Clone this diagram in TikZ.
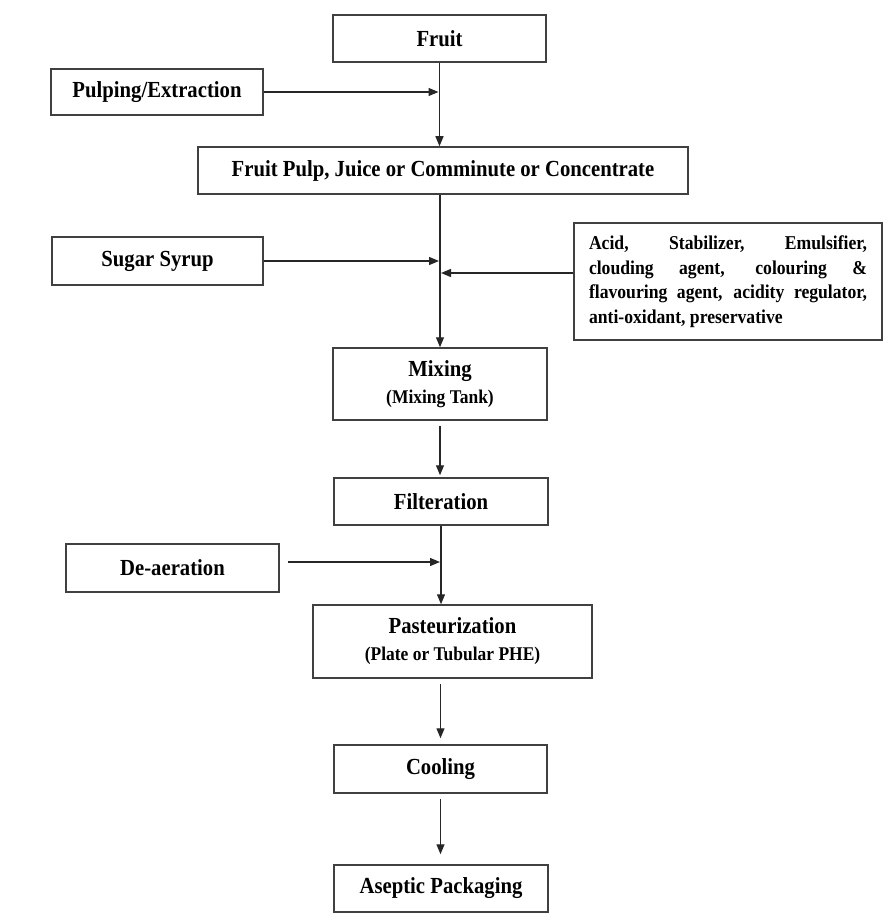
\documentclass[tikz,border=0pt]{standalone}
\usepackage{fontspec}
\setmainfont{Liberation Serif}[FakeStretch=0.9]
\usepackage{tikz}
\usetikzlibrary{arrows.meta,positioning}

\begin{document}
\begin{tikzpicture}[x=1pt,y=-1pt,
  font=\fontsize{23}{27}\selectfont\bfseries,
  box/.style={draw=black!75,line width=1.5pt,fill=white,align=center,inner sep=0pt},
  arr/.style={-{Triangle[length=10pt,width=8pt]},line width=1.3pt,draw=black!85}]
\useasboundingbox (0,0) rectangle (895,920);
% main column
\node[box,minimum width=213pt,minimum height=47pt] (fruit) at (439.5,38.5) {Fruit};
\node[box,minimum width=490pt,minimum height=47pt] (pulp) at (443,170.5) {Fruit Pulp, Juice or Comminute or Concentrate};
\node[box,minimum width=214pt,minimum height=72pt] (mixing) at (440,384) {Mixing\\{\fontsize{19.4}{27}\selectfont (Mixing Tank)}};
\node[box,minimum width=214pt,minimum height=47pt] (filter) at (441,501.5) {Filteration};
\node[box,minimum width=279pt,minimum height=73pt] (pasteur) at (452.5,641.5) {Pasteurization\\{\fontsize{19.4}{27}\selectfont (Plate or Tubular PHE)}};
\node[box,minimum width=213pt,minimum height=48pt] (cooling) at (440.5,769) {Cooling};
\node[box,minimum width=214pt,minimum height=47pt] (aseptic) at (441,888.5) {Aseptic Packaging};
% side inputs
\node[box,minimum width=212pt,minimum height=46pt] (pulping) at (157,92) {Pulping/Extraction};
\node[box,minimum width=211pt,minimum height=48pt] (sugar) at (157.5,261) {Sugar Syrup};
\node[box,minimum width=308pt,minimum height=117pt,text width=278pt,align=justify,
  font=\fontsize{19.6}{24.5}\selectfont\bfseries] (additives) at (728,281.5)
  {Acid, Stabilizer, Emulsifier,\linebreak clouding agent, colouring \&\linebreak flavouring agent, acidity regulator,\linebreak anti-oxidant, preservative};
\node[box,minimum width=213pt,minimum height=48pt] (deaer) at (172.5,568) {De-aeration};
% connectors
\draw[arr] (fruit.south) -- (fruit |- pulp.north);
\draw[arr,shorten >=1pt] (pulping.east) -- (pulping -| fruit);
\draw[arr] (pulp.south -| mixing) -- (mixing.north);
\draw[arr,shorten >=1pt] (sugar.east) -- (sugar -| mixing);
\draw[arr,shorten >=1pt] ([yshift=8.5pt]additives.west) -- ([yshift=8.5pt]additives.west -| mixing);
\draw[arr,shorten <=5pt,shorten >=2pt] (mixing.south) -- (mixing |- filter.north);
\draw[arr] (filter.south) -- (filter |- pasteur.north);
\draw[arr,shorten <=8pt,shorten >=1pt] ([yshift=6pt]deaer.east) -- ([yshift=6pt]deaer.east -| filter);
\draw[arr,shorten <=5pt,shorten >=6pt] (pasteur.south -| cooling) -- (cooling.north);
\draw[arr,shorten <=5pt,shorten >=10pt] (cooling.south) -- (cooling |- aseptic.north);
\end{tikzpicture}
\end{document}
